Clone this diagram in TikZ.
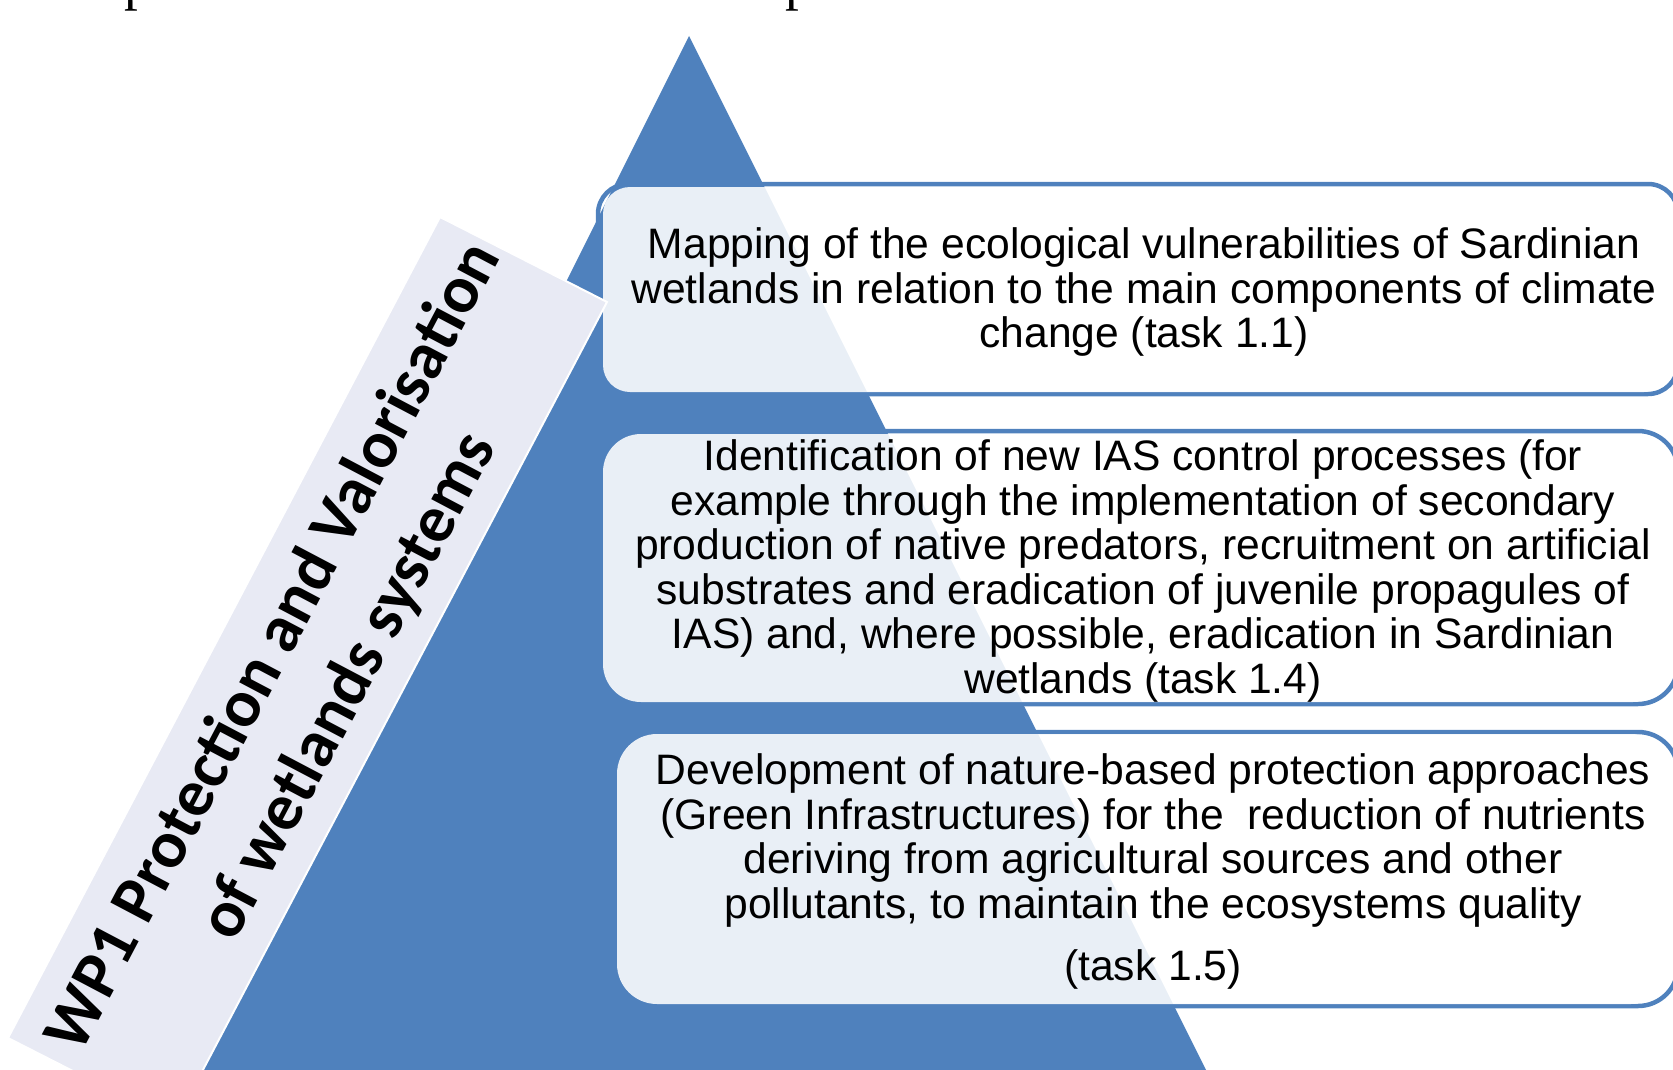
\documentclass[tikz,border=0pt]{standalone}
\usepackage{fontspec}
\setmainfont{Liberation Sans}
\newfontfamily\labfont{Carlito}
\newfontfamily\seriffont{Liberation Serif}
\definecolor{pyrblue}{RGB}{79,129,189}
\definecolor{labfill}{RGB}{232,234,244}
\begin{document}
\begin{tikzpicture}[x=1pt,y=-1pt,
  boxline/.style={draw=pyrblue,line width=4.5pt},
  boxfill/.style={fill=white,fill opacity=0.88},
  boxtext/.style={align=center,font=\fontsize{42.6}{44.5}\selectfont,inner sep=0pt},
  cutp/.style={font=\seriffont\fontsize{55}{55}\selectfont,anchor=base west,inner sep=0pt},
]
\useasboundingbox (0,0) rectangle (1673,1070);
% cut-off caption letters at the top
\node[cutp] (p1) at (124,0) {p};
\node[cutp] (p2) at (785,0) {p};
% pyramid
\fill[pyrblue] (689,36) -- (1221,1100) -- (157,1100) -- cycle;
% box 1
\draw[boxline, rounded corners=30pt] (598,184) rectangle (1678,394);
\fill[boxfill, rounded corners=27pt] (603,187) rectangle (1671,392);
% box 2
\draw[boxline, rounded corners=40pt] (598,431) rectangle (1678,704);
\fill[boxfill, rounded corners=38pt] (603,434) rectangle (1671,702);
% box 3
\draw[boxline, rounded corners=40pt] (612,732) rectangle (1678,1006);
\fill[boxfill, rounded corners=40pt] (617,734) rectangle (1671,1004);
% tilted label band
\filldraw[fill=labfill, draw=white, line width=2pt] (440,217) -- (607,302) -- (175,1123) -- (8,1038) -- cycle;
\node[rotate=62.2, align=center, inner sep=0pt,
      font=\labfont\bfseries\fontsize{67}{85}\selectfont] (wp) at (312,667)
  {WP1 Protection and Valorisation\\of wetlands systems};
% box texts
\node[boxtext] (t1) at (1144,292)
  {Mapping of the ecological vulnerabilities of Sardinian\\
   wetlands in relation to the main components of climate\\
   change (task 1.1)};
\node[boxtext] (t2) at (1143,571)
  {Identification of new IAS control processes (for\\
   example through the implementation of secondary\\
   production of native predators, recruitment on artificial\\
   substrates and eradication of juvenile propagules of\\
   IAS) and, where possible, eradication in Sardinian\\
   wetlands (task 1.4)};
\node[boxtext] (t3) at (1153,871.5)
  {Development of nature-based protection approaches\\
   (Green Infrastructures) for the\ \ reduction of nutrients\\
   deriving from agricultural sources and other\\
   pollutants, to maintain the ecosystems quality\\[17.5pt]
   (task 1.5)};
\end{tikzpicture}
\end{document}
